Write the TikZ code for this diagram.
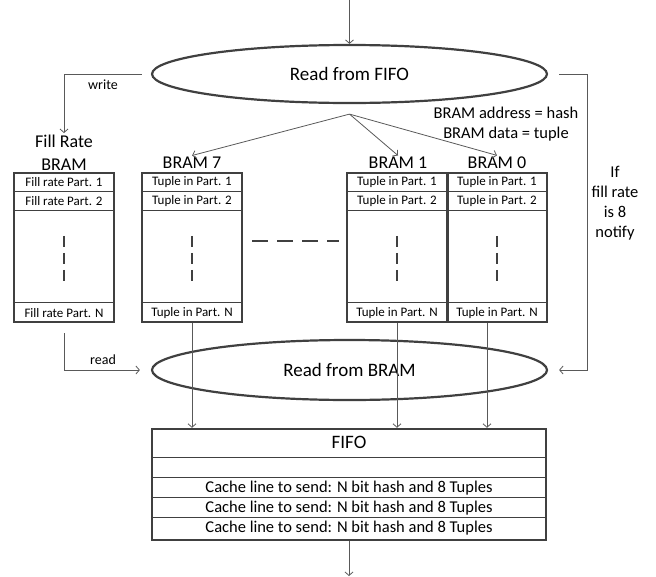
\documentclass[tikz,border=0pt]{standalone}
\usepackage{fontspec}
\setmainfont{Carlito}
\usetikzlibrary{arrows.meta,shapes.geometric,calc}
\definecolor{boxcol}{HTML}{404040}
\definecolor{conncol}{HTML}{595959}
\begin{document}
\begin{tikzpicture}[x=1pt,y=-1pt,
  ell/.style={ellipse, draw=boxcol, line width=2.2pt, minimum width=395pt, inner sep=0pt, font=\fontsize{19}{19}\selectfont},
  bram/.style={draw=boxcol, line width=2.4pt, inner sep=0pt},
  rowline/.style={draw=boxcol, line width=1pt},
  cell/.style={inner sep=0pt, font=\fontsize{13}{13}\selectfont},
  bigcell/.style={inner sep=0pt, font=\fontsize{16.5}{16.5}\selectfont},
  lab/.style={inner sep=1.5pt, align=center, font=\fontsize{18}{23}\selectfont},
  midlab/.style={inner sep=0pt, align=center, font=\fontsize{16.5}{20}\selectfont},
  smalllab/.style={inner sep=0pt, font=\fontsize{14}{14}\selectfont},
  conn/.style={draw=conncol, line width=0.8pt},
  arr/.style={conn, -{Straight Barb[length=3.5pt,width=8pt]}},
  vdashline/.style={draw=boxcol, line width=2pt, dash pattern=on 11pt off 6pt},
  hdashline/.style={draw=boxcol, line width=2.5pt, dash pattern=on 16pt off 9pt}
]
\useasboundingbox (0,0) rectangle (656,576);

% ellipses
\node[ell, minimum height=58pt] (rf) at (349.5,74) {Read from FIFO};
\node[ell, minimum height=60pt] (rb) at (349.5,370) {Read from BRAM};

% BRAM boxes
\node[bram, minimum width=100pt, minimum height=149pt] (fr) at (64,247.5) {};
\node[bram, minimum width=100pt, minimum height=149pt] (b7) at (192,247.5) {};
\node[bram, minimum width=100pt, minimum height=149pt] (b1) at (397,247.5) {};
\node[bram, minimum width=100pt, minimum height=149pt] (b0) at (497,247.5) {};

\foreach \b in {fr,b7,b1,b0}{
  \draw[rowline] ([yshift=-20pt]\b.north west) -- ([yshift=-20pt]\b.north east);
  \draw[rowline] ([yshift=-39pt]\b.north west) -- ([yshift=-39pt]\b.north east);
  \draw[rowline] ([yshift=21pt]\b.south west) -- ([yshift=21pt]\b.south east);
  \draw[vdashline] ([yshift=-64pt]\b.north) -- ([yshift=-109pt]\b.north);
}
\draw[bram] (b1.north east) -- (b1.south east);

\node[cell] (fr1) at ([yshift=-10pt]fr.north) {Fill rate Part. 1};
\node[cell] (fr2) at ([yshift=-29.5pt]fr.north) {Fill rate Part. 2};
\node[cell] (frn) at ([yshift=10.5pt]fr.south) {Fill rate Part. N};
\foreach \b in {b7,b1,b0}{
  \node[cell] (\b c1) at ([yshift=-10pt]\b.north) {Tuple in Part. 1};
  \node[cell] (\b c2) at ([yshift=-29.5pt]\b.north) {Tuple in Part. 2};
  \node[cell] (\b cn) at ([yshift=10.5pt]\b.south) {Tuple in Part. N};
}

% labels
\node[lab] (frl) at (64,152.5) {Fill Rate\\BRAM};
\node[lab] (b7l) at (192,163) {BRAM 7};
\node[lab] (b1l) at (398,163) {BRAM 1};
\node[lab] (b0l) at (497,163) {BRAM 0};
\node[midlab] (addr) at (506,124) {BRAM address = hash\\BRAM data = tuple};
\node[midlab] (ifn) at (615,203) {If\\fill rate\\is 8\\notify};
\node[smalllab] (wr) at (103,85) {write};
\node[smalllab] (rd) at (103,360) {read};

% dashed separator
\draw[hdashline] ([shift={(9pt,6.5pt)}]b7.east) -- ([shift={(-7pt,6.5pt)}]b1.west);

% FIFO
\node[bram, minimum width=394pt, minimum height=111pt] (fifo) at (349,484.5) {};
\foreach \d in {30,50,70,90}{
  \draw[rowline] ([yshift=-\d pt]fifo.north west) -- ([yshift=-\d pt]fifo.north east);
}
\node[midlab, font=\fontsize{19}{19}\selectfont] (fifot) at ([yshift=-15pt]fifo.north) {FIFO};
\node[bigcell] (cl1) at ([yshift=-60pt]fifo.north) {Cache line to send: N bit hash and 8 Tuples};
\node[bigcell] (cl2) at ([yshift=-80pt]fifo.north) {Cache line to send: N bit hash and 8 Tuples};
\node[bigcell] (cl3) at ([yshift=-100.5pt]fifo.north) {Cache line to send: N bit hash and 8 Tuples};

% connectors
\coordinate (in) at (349.5,0);
\coordinate (out) at (349,576);
\coordinate (fan) at ([yshift=-10pt]rf.south);
\draw[arr] (in) -- (rf.north);
\draw[arr] ([xshift=-9pt]rf.west) -| (frl.north);
\draw[arr] (fan) -- (b7l.north);
\draw[arr] (fan) -- (b1l.north);
\draw[arr] (fan) -- (b0l.north);
\draw[arr] ([xshift=11pt]rf.east) -- ++(28,0) |- ([xshift=11pt]rb.east);
\draw[arr] ([yshift=-10pt]fr.south) |- ([xshift=-11pt]rb.west);
\draw[arr] (b7.south) -- (b7.south |- fifo.north);
\draw[arr] (b1.south) -- (b1.south |- fifo.north);
\draw[arr] ([xshift=-10pt]b0.south) -- ([xshift=-10pt]b0.south |- fifo.north);
\draw[arr] (fifo.south) -- (out);
\end{tikzpicture}
\end{document}
